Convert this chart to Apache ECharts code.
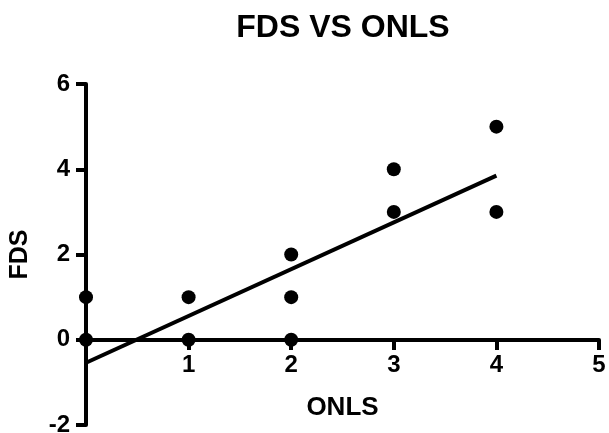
<!DOCTYPE html>
<html><head><meta charset="utf-8">
<script src="https://cdn.jsdelivr.net/npm/echarts@6/dist/echarts.min.js"></script>
<style>html,body{margin:0;padding:0;background:#fff}#c{width:609px;height:433px}</style>
</head><body><div id="c"></div>
<script>
var titleText = 'FDS VS ONLS';
var xName = 'ONLS';
var yName = 'FDS';
var onls = [0, 0, 1, 1, 2, 2, 2, 3, 3, 4, 4];
var fds  = [0, 1, 1, 0, 2, 1, 0, 4, 3, 5, 3];
var fitX = [0, 4];
var fitY = [-0.54, 3.85];
var xTicks = [1, 2, 3, 4, 5];
var yTicks = [-2, 0, 2, 4, 6];

var font = 'Liberation Sans, Arial, sans-serif';
var L = 86, R = 10, T = 84, B = 8;
var zeroY = 340;
var chart = echarts.init(document.getElementById('c'), null, {renderer: 'canvas'});
chart.setOption({
  animation: false,
  backgroundColor: '#fff',
  title: {text: titleText, left: 338, top: 7, textAlign: 'center',
    textStyle: {fontFamily: font, fontWeight: 'bold', fontSize: 32, color: '#000'}},
  grid: [
    {left: L, right: R, top: T, bottom: B, outerBoundsMode: 'none'},
    {left: L, right: R, top: T, bottom: 433 - zeroY, outerBoundsMode: 'none'}
  ],
  xAxis: [
    {type: 'value', gridIndex: 0, min: 0, max: 5, interval: 1, show: false},
    {type: 'value', gridIndex: 1, min: 0, max: 5, interval: 1, position: 'bottom',
      name: xName, nameLocation: 'middle', nameGap: 55,
      nameTextStyle: {fontFamily: font, fontWeight: 'bold', fontSize: 26, color: '#000'},
      axisLine: {show: true, onZero: false, lineStyle: {color: '#000', width: 4}},
      axisTick: {show: true, length: 10, lineStyle: {color: '#000', width: 4}},
      axisLabel: {fontFamily: font, fontWeight: 'bold', fontSize: 24, color: '#000', margin: 13,
        showMinLabel: true, showMaxLabel: true,
        formatter: function (v) { return xTicks.indexOf(v) >= 0 ? String(v) : ''; }},
      splitLine: {show: false}}
  ],
  yAxis: [
    {type: 'value', gridIndex: 0, min: -2, max: 6, interval: 2,
      name: yName, nameLocation: 'middle', nameGap: 53, nameRotate: 90,
      nameTextStyle: {fontFamily: font, fontWeight: 'bold', fontSize: 25, color: '#000'},
      axisLine: {show: true, onZero: false, lineStyle: {color: '#000', width: 4}},
      axisTick: {show: true, length: 10, lineStyle: {color: '#000', width: 4}},
      axisLabel: {fontFamily: font, fontWeight: 'bold', fontSize: 24, color: '#000', margin: 16,
        showMinLabel: true, showMaxLabel: true,
        formatter: function (v) { return yTicks.indexOf(v) >= 0 ? String(v) : ''; }},
      splitLine: {show: false}},
    {type: 'value', gridIndex: 1, min: 0, max: 1, show: false}
  ],
  series: [
    {type: 'line', xAxisIndex: 0, yAxisIndex: 0,
      data: fitX.map(function (x, i) { return [x, fitY[i]]; }),
      showSymbol: false, symbol: 'none', clip: false,
      lineStyle: {color: '#000', width: 4}, z: 3},
    {type: 'scatter', xAxisIndex: 0, yAxisIndex: 0,
      data: onls.map(function (x, i) { return [x, fds[i]]; }),
      symbol: 'circle', symbolSize: 14, clip: false,
      itemStyle: {color: '#000', opacity: 1}, z: 4}
  ]
});
</script></body></html>
